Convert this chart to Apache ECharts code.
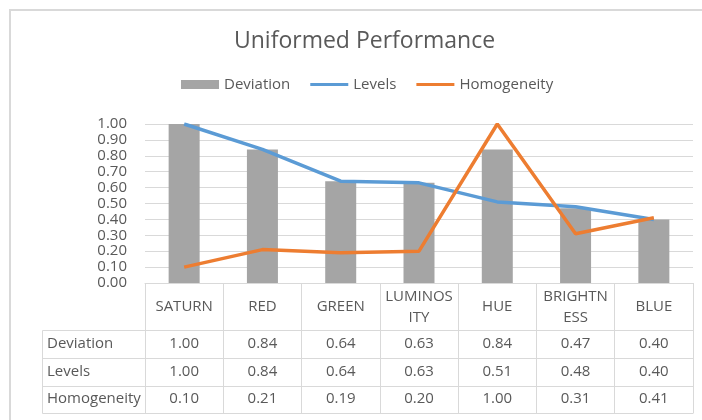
<!DOCTYPE html>
<html>
<head>
<meta charset="utf-8">
<script src="https://cdn.jsdelivr.net/npm/echarts@6/dist/echarts.min.js"></script>
<style>
html,body{margin:0;padding:0;background:#fff;}
#chart{width:702px;height:420px;}
</style>
</head>
<body>
<div id="chart"></div>
<script>
const categories = ["SATURN", "RED", "GREEN", "LUMINOSITY", "HUE", "BRIGHTNESS", "BLUE"];
const headerLabels = ["SATURN", "RED", "GREEN", "LUMINOS\nITY", "HUE", "BRIGHTN\nESS", "BLUE"];
const deviation = [1.00, 0.84, 0.64, 0.63, 0.84, 0.47, 0.40];
const levels = [1.00, 0.84, 0.64, 0.63, 0.51, 0.48, 0.40];
const homogeneity = [0.10, 0.21, 0.19, 0.20, 1.00, 0.31, 0.41];
const seriesNames = ["Deviation", "Levels", "Homogeneity"];
const yTicks = [0, 1, 0.1];

const FONT = "'Open Sans', sans-serif";
const TXT = "#595959";
const LINE = "#d9d9d9";
const COLORS = ['#a5a5a5', '#5b9bd5', '#ed7d31'];

const chart = echarts.init(document.getElementById('chart'), null, {renderer: 'canvas'});

function rowAxis(values, margin) {
  return {
    type: 'category', gridIndex: 0, position: 'bottom', offset: 0,
    data: categories,
    axisLine: {show: false}, axisTick: {show: false}, splitLine: {show: false},
    axisLabel: {
      interval: 0, margin: margin, verticalAlign: 'middle',
      color: TXT, fontFamily: FONT, fontSize: 15,
      formatter: (v, i) => values[i].toFixed(2)
    }
  };
}

const tableRows = [330.5, 358.5, 386.5, 413.5];
const graphics = [
  {type: 'rect', shape: {x: 10, y: 10, width: 800, height: 500},
   style: {fill: null, stroke: LINE, lineWidth: 2}, silent: true}
];
tableRows.forEach(y => graphics.push({type: 'line', shape: {x1: 42.5, y1: y, x2: 693.5, y2: y},
  style: {stroke: LINE, lineWidth: 1}, silent: true}));
graphics.push({type: 'line', shape: {x1: 42.5, y1: 330.5, x2: 42.5, y2: 413.5},
  style: {stroke: LINE, lineWidth: 1}, silent: true});
const rowCenters = [344, 372, 399];
seriesNames.forEach((n, i) => graphics.push({type: 'text', left: 47, top: rowCenters[i] - 10,
  style: {text: n, fill: TXT, font: "15px 'Open Sans', sans-serif", textVerticalAlign: 'top', lineHeight: 20}, silent: true}));

const lineIcon = 'path://M0 0H38V3H0Z';

chart.setOption({
  animation: false,
  backgroundColor: '#ffffff',
  title: {
    text: 'Uniformed Performance', left: 234, top: 30, padding: 0,
    textStyle: {color: TXT, fontFamily: FONT, fontSize: 23, fontWeight: 'normal'}
  },
  legend: {
    left: 181, top: 77, padding: 0, itemWidth: 38, itemHeight: 9, itemGap: 20,
    textStyle: {color: TXT, fontFamily: FONT, fontSize: 15},
    data: [
      {name: seriesNames[0], icon: 'rect'},
      {name: seriesNames[1], icon: lineIcon},
      {name: seriesNames[2], icon: lineIcon}
    ]
  },
  grid: {left: 145, right: 9, top: 124, height: 159, containLabel: false},
  xAxis: [
    {
      type: 'category', data: categories, position: 'bottom',
      axisLine: {show: true, lineStyle: {color: LINE, width: 1}},
      axisTick: {show: true, length: 130, lineStyle: {color: LINE, width: 1}},
      axisLabel: {
        interval: 0, margin: 24, verticalAlign: 'middle', lineHeight: 21,
        color: TXT, fontFamily: FONT, fontSize: 15,
        formatter: (v, i) => headerLabels[i]
      }
    },
    rowAxis(deviation, 61),
    rowAxis(levels, 89),
    rowAxis(homogeneity, 116)
  ],
  yAxis: {
    type: 'value', min: yTicks[0], max: yTicks[1], interval: yTicks[2],
    axisLine: {show: false}, axisTick: {show: false},
    splitLine: {lineStyle: {color: LINE, width: 1}},
    axisLabel: {color: TXT, fontFamily: FONT, fontSize: 15, margin: 18,
      formatter: v => v.toFixed(2)}
  },
  series: [
    {name: seriesNames[0], type: 'bar', data: deviation, barWidth: 31,
     itemStyle: {color: COLORS[0]}},
    {name: seriesNames[1], type: 'line', data: levels, symbol: 'none',
     lineStyle: {color: COLORS[1], width: 3.5}, itemStyle: {color: COLORS[1]}, z: 3},
    {name: seriesNames[2], type: 'line', data: homogeneity, symbol: 'none',
     lineStyle: {color: COLORS[2], width: 3.5}, itemStyle: {color: COLORS[2]}, z: 4}
  ],
  graphic: graphics
});
</script>
</body>
</html>
